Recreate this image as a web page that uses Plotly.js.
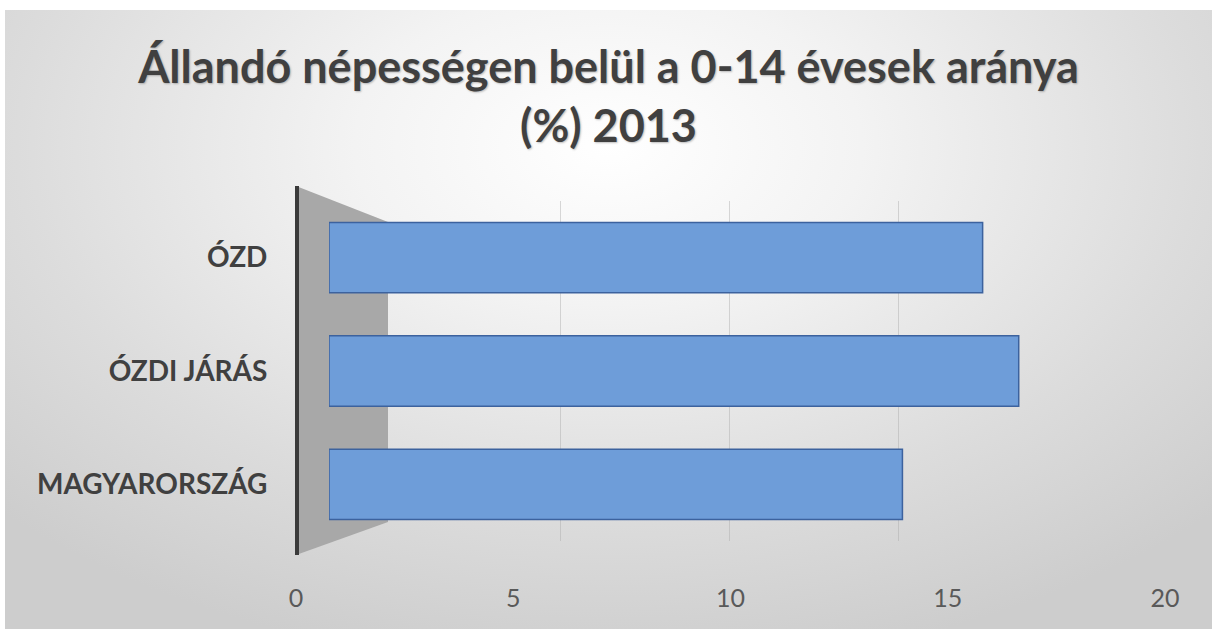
<!DOCTYPE html>
<html>
<head>
<meta charset="utf-8">
<script src="https://cdn.plot.ly/plotly-3.0.1.min.js"></script>
<style>
  html, body { margin: 0; padding: 0; background: #ffffff; }
  #wrap { position: relative; width: 1217px; height: 629px; overflow: hidden; }
  #bg { position: absolute; left: 5px; top: 10px; width: 1207px; height: 619px;
        background: radial-gradient(ellipse 70% 85% at 50% 22%, #ffffff 0%, #f3f3f3 30%, #dcdcdc 70%, #cdcdcd 100%); }
  #chart { position: absolute; left: 0; top: 0; width: 1217px; height: 629px; }
</style>
</head>
<body>
<div id="wrap"><div id="bg"></div><div id="chart"></div></div>
<script>
// Data
const categories = ["ÓZD", "ÓZDI JÁRÁS", "MAGYARORSZÁG"];
const values = [16.3, 17.2, 14.3];
const tickValues = [0, 5, 10, 15, 20];
const tickLabels = ["0", "5", "10", "15", "20"];
const gridValues = [5, 10, 15];
const titleText = "Állandó népességen belül a 0-14 évesek aránya<br>(%) 2013";

const W = 1217, H = 629;
const px = v => v / W;
const py = v => 1 - v / H;

const traces = [
  { type: "scatter", x: [], y: [], xaxis: "x", yaxis: "y", hoverinfo: "skip", showlegend: false },
  { type: "scatter", x: [], y: [], xaxis: "x2", yaxis: "y", hoverinfo: "skip", showlegend: false },
  {
    type: "bar", orientation: "h",
    x: values, y: categories,
    xaxis: "x3", yaxis: "y",
    marker: { color: "rgb(110,157,217)", line: { color: "rgb(60,98,158)", width: 1.5 } },
    hoverinfo: "x+y", showlegend: false
  }
];

const layout = {
  width: W, height: H,
  margin: { l: 0, r: 0, t: 0, b: 0 },
  paper_bgcolor: "rgba(0,0,0,0)",
  plot_bgcolor: "rgba(0,0,0,0)",
  showlegend: false,
  bargap: 0.38,
  title: {
    text: titleText,
    font: { family: "Lato", size: 45, color: "#404040", weight: 700, shadow: "1px 1px 2px rgba(0,0,0,0.25)" },
    x: 0.5, xanchor: "center", y: py(83), yanchor: "middle"
  },
  xaxis: {
    domain: [px(296), px(1165)], range: [0, 20],
    anchor: "free", position: py(581),
    tickmode: "array", tickvals: tickValues, ticktext: tickLabels,
    showgrid: false, zeroline: false, showline: false, ticks: "",
    tickfont: { family: "Lato", size: 25, color: "#595959" },
    fixedrange: true
  },
  xaxis2: {
    domain: [px(391), px(1067)], range: [0, 20], anchor: "y",
    tickmode: "array", tickvals: gridValues,
    showgrid: true, gridcolor: "rgba(170,170,170,0.45)", gridwidth: 1,
    showticklabels: false, zeroline: false, showline: false, ticks: ""
  },
  xaxis3: {
    domain: [px(329), px(1131)], range: [0, 20], anchor: "y",
    showgrid: false, showticklabels: false, zeroline: false, showline: false, ticks: ""
  },
  yaxis: {
    domain: [py(541), py(201)], anchor: "x",
    type: "category", autorange: "reversed",
    showgrid: false, zeroline: false, showline: false,
    ticks: "outside", ticklen: 22, tickcolor: "rgba(0,0,0,0)",
    tickfont: { family: "Lato", size: 28, color: "#404040", weight: 700 }
  },
  shapes: [
    { type: "path", xref: "paper", yref: "paper", layer: "below",
      path: `M ${px(296)} ${py(186)} L ${px(388)} ${py(222)} L ${px(388)} ${py(522)} L ${px(296)} ${py(555)} Z`,
      fillcolor: "rgb(168,168,168)", line: { width: 0 } },
    { type: "line", xref: "paper", yref: "paper", layer: "above",
      x0: px(297), x1: px(297), y0: py(186), y1: py(555),
      line: { color: "#3a3a3a", width: 4 } }
  ]
};

Plotly.newPlot("chart", traces, layout, { displayModeBar: false, staticPlot: true });
</script>
</body>
</html>
